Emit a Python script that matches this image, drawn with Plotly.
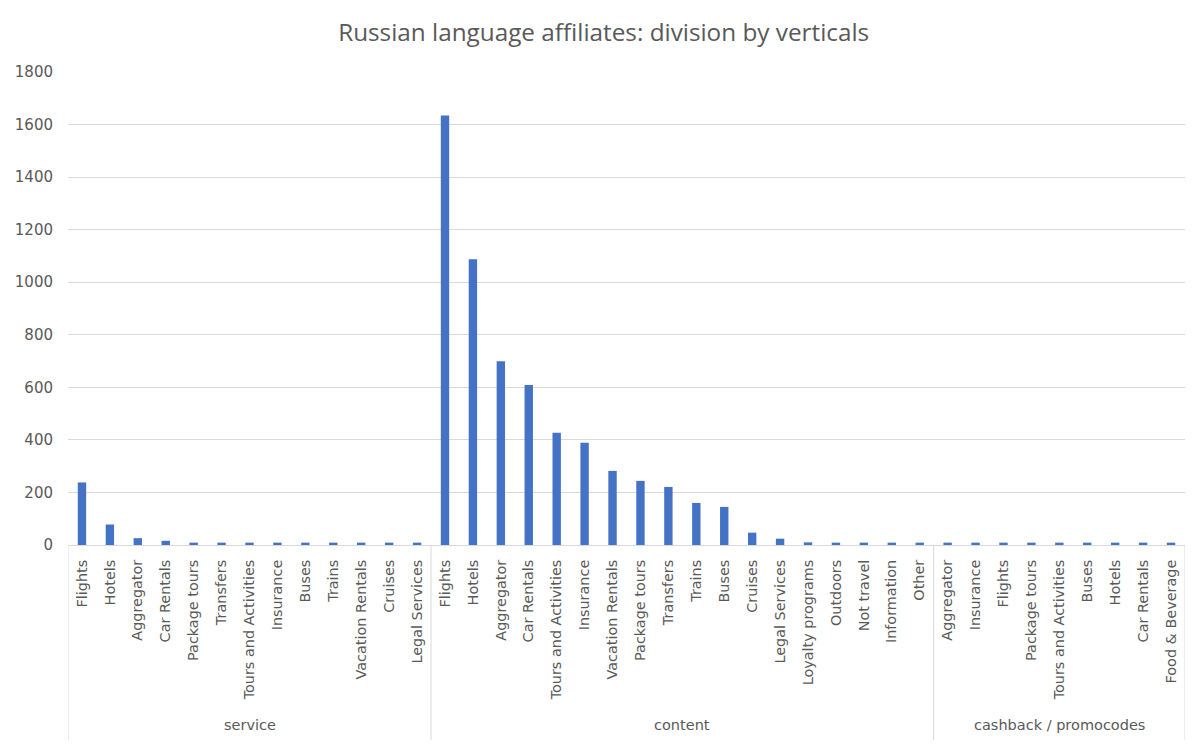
import plotly.graph_objects as go

service_labels = ["Flights", "Hotels", "Aggregator", "Car Rentals", "Package tours", "Transfers",
                  "Tours and Activities", "Insurance", "Buses", "Trains", "Vacation Rentals",
                  "Cruises", "Legal Services"]
service_values = [238, 78, 26, 16, 9, 9, 9, 9, 9, 9, 9, 9, 9]

content_labels = ["Flights", "Hotels", "Aggregator", "Car Rentals", "Tours and Activities", "Insurance",
                  "Vacation Rentals", "Package tours", "Transfers", "Trains", "Buses", "Cruises",
                  "Legal Services", "Loyalty programs", "Outdoors", "Not travel", "Information", "Other"]
content_values = [1634, 1087, 699, 609, 427, 389, 282, 244, 221, 160, 145, 47, 24, 10, 9, 9, 9, 9]

cashback_labels = ["Aggregator", "Insurance", "Flights", "Package tours", "Tours and Activities",
                   "Buses", "Hotels", "Car Rentals", "Food & Beverage"]
cashback_values = [9, 9, 9, 9, 9, 9, 9, 9, 9]

groups = ["service", "content", "cashback / promocodes"]
group_labels = [service_labels, content_labels, cashback_labels]
group_values = [service_values, content_values, cashback_values]

TEXT = "#595959"
GRID = "#D9D9D9"
FONT = "DejaVu Sans"

inner = [lab for labs in group_labels for lab in labs]
values = [v for vals in group_values for v in vals]
idx = list(range(len(inner)))

fig = go.Figure(go.Bar(x=idx, y=values, marker_color="#4472C4", marker_line_width=0,
                       hovertext=inner))

# group dividers and labels (in axis units)
plot_h = 745 - 72 - 200
div_bottom = -(740 - 545) / plot_h
lab_y = -(725 - 545) / plot_h
start = -0.5
bounds = [start]
for g, labs in zip(groups, group_labels):
    end = start + len(labs)
    fig.add_annotation(x=(start + end) / 2, y=lab_y, xref="x", yref="paper", text=g,
                       showarrow=False, yanchor="middle",
                       font=dict(family=FONT, size=14.5, color=TEXT))
    bounds.append(end)
    start = end
for b in bounds:
    fig.add_shape(type="line", xref="x", yref="paper", x0=b, x1=b, y0=0, y1=div_bottom,
                  line=dict(color=GRID, width=1))

fig.update_layout(
    width=1193, height=745,
    paper_bgcolor="white", plot_bgcolor="white",
    margin=dict(l=68, r=8, t=72, b=200),
    bargap=0.7,
    showlegend=False,
    font=dict(family=FONT, color=TEXT, size=14),
    title=dict(text="Russian language affiliates: division by verticals",
               x=0.506, xanchor="center", y=0.957, yanchor="middle",
               font=dict(family="Open Sans", size=24.3, color=TEXT)),
)
fig.update_xaxes(range=[-0.5, len(inner) - 0.5], tickmode="array", tickvals=idx, ticktext=inner,
                 tickangle=-90, showline=True, linecolor=GRID, linewidth=1,
                 showgrid=False, zeroline=False, ticks="", ticklabelstandoff=8,
                 tickfont=dict(family=FONT, size=14.4, color=TEXT))
fig.update_yaxes(range=[0, 1800], dtick=200, showgrid=True, gridcolor=GRID,
                 gridwidth=1, zeroline=False, ticks="", ticklabelstandoff=14,
                 tickfont=dict(family=FONT, size=15, color=TEXT))

fig.write_html("out.html")
